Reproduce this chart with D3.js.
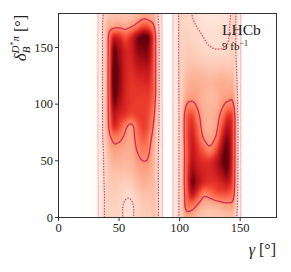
<!DOCTYPE html>
<html>
<head>
<meta charset="utf-8">
<script src="https://cdn.jsdelivr.net/npm/d3@7"></script>
<style>
  body { margin: 0; background: #fff; }
  svg { display: block; }
</style>
</head>
<body>
<div class="container"></div>
<script>
// grid nodes of the density map (degrees)
const gammaNodes = [0,5,10,15,20,25,30,35,40,45,50,55,60,65,70,75,80,85,90,95,100,105,110,115,120,125,130,135,140,145,150,155,160,165,170,175,180];
const deltaNodes = [0,10,20,30,40,50,60,70,80,90,100,110,120,130,140,150,160,170,180];

// relative density, one row per deltaNodes value
// columns: 0..20 | 25..90 (first band) | 95..155 (second band) | 160..180
const density = [
  [0,0,0,0,0, 0,0.006,0.045,0.10,0.10,0.10,0.07,0.07,0.10,0.12,0.13,0.14,0.03,0, 0.025,0.09,0.22,0.22,0.17,0.14,0.13,0.14,0.15,0.16,0.14,0.025,0, 0,0,0,0,0],
  [0,0,0,0,0, 0,0.006,0.045,0.10,0.11,0.10,0.072,0.072,0.10,0.13,0.14,0.14,0.03,0, 0.025,0.09,0.33,0.37,0.27,0.20,0.19,0.20,0.23,0.25,0.20,0.025,0, 0,0,0,0,0],
  [0,0,0,0,0, 0,0.006,0.045,0.10,0.12,0.11,0.09,0.09,0.13,0.16,0.16,0.14,0.03,0, 0.025,0.09,0.36,0.70,0.52,0.33,0.36,0.45,0.48,0.46,0.30,0.025,0, 0,0,0,0,0],
  [0,0,0,0,0, 0,0.006,0.045,0.11,0.14,0.13,0.12,0.13,0.17,0.20,0.19,0.14,0.03,0, 0.025,0.09,0.40,0.92,0.78,0.62,0.58,0.60,0.66,0.70,0.36,0.025,0, 0,0,0,0,0],
  [0,0,0,0,0, 0,0.006,0.045,0.12,0.16,0.16,0.16,0.17,0.21,0.24,0.22,0.14,0.03,0, 0.025,0.09,0.40,0.85,0.74,0.66,0.64,0.70,0.84,0.90,0.38,0.025,0, 0,0,0,0,0],
  [0,0,0,0,0, 0,0.007,0.045,0.13,0.20,0.20,0.19,0.20,0.26,0.30,0.27,0.14,0.03,0, 0.025,0.09,0.38,0.75,0.66,0.60,0.60,0.72,0.95,1.00,0.40,0.025,0, 0,0,0,0,0],
  [0,0,0,0,0, 0,0.007,0.045,0.15,0.25,0.25,0.22,0.22,0.31,0.37,0.31,0.15,0.03,0, 0.025,0.09,0.38,0.70,0.60,0.44,0.34,0.50,0.85,0.98,0.40,0.025,0, 0,0,0,0,0],
  [0,0,0,0,0, 0,0.007,0.05,0.18,0.34,0.34,0.27,0.24,0.36,0.46,0.36,0.17,0.03,0, 0.025,0.09,0.40,0.68,0.50,0.29,0.24,0.32,0.68,0.90,0.40,0.025,0, 0,0,0,0,0],
  [0,0,0,0,0, 0,0.007,0.05,0.21,0.58,0.52,0.34,0.26,0.42,0.55,0.44,0.20,0.03,0, 0.025,0.09,0.40,0.62,0.42,0.23,0.20,0.25,0.50,0.76,0.40,0.025,0, 0,0,0,0,0],
  [0,0,0,0,0, 0,0.007,0.05,0.22,0.70,0.65,0.58,0.50,0.55,0.56,0.48,0.24,0.028,0, 0.025,0.09,0.38,0.52,0.34,0.22,0.20,0.23,0.36,0.58,0.38,0.025,0, 0,0,0,0,0],
  [0,0,0,0,0, 0,0.007,0.05,0.22,0.85,0.78,0.65,0.58,0.56,0.56,0.52,0.28,0.027,0, 0.025,0.09,0.27,0.33,0.27,0.20,0.19,0.20,0.27,0.33,0.27,0.025,0, 0,0,0,0,0],
  [0,0,0,0,0, 0,0.007,0.05,0.22,0.95,0.88,0.66,0.58,0.58,0.58,0.56,0.32,0.026,0, 0.025,0.09,0.20,0.24,0.23,0.20,0.18,0.19,0.23,0.24,0.20,0.025,0, 0,0,0,0,0],
  [0,0,0,0,0, 0,0.007,0.05,0.22,1.00,0.92,0.68,0.60,0.62,0.64,0.62,0.32,0.026,0, 0.025,0.09,0.17,0.21,0.21,0.20,0.19,0.20,0.21,0.20,0.16,0.025,0, 0,0,0,0,0],
  [0,0,0,0,0, 0,0.007,0.05,0.22,0.98,0.92,0.68,0.62,0.70,0.72,0.68,0.32,0.026,0, 0.025,0.09,0.15,0.17,0.17,0.16,0.15,0.15,0.16,0.15,0.13,0.025,0, 0,0,0,0,0],
  [0,0,0,0,0, 0,0.007,0.05,0.22,0.93,0.88,0.68,0.66,0.80,0.86,0.78,0.32,0.026,0, 0.025,0.09,0.13,0.14,0.13,0.12,0.11,0.11,0.11,0.11,0.11,0.025,0, 0,0,0,0,0],
  [0,0,0,0,0, 0,0.007,0.05,0.22,0.86,0.82,0.64,0.68,0.90,0.95,0.85,0.32,0.026,0, 0.025,0.09,0.12,0.12,0.10,0.09,0.082,0.077,0.078,0.085,0.10,0.025,0, 0,0,0,0,0],
  [0,0,0,0,0, 0,0.007,0.05,0.22,0.60,0.60,0.48,0.60,0.85,1.00,0.88,0.32,0.026,0, 0.025,0.09,0.11,0.10,0.09,0.078,0.07,0.068,0.07,0.075,0.10,0.025,0, 0,0,0,0,0],
  [0,0,0,0,0, 0,0.006,0.05,0.18,0.22,0.24,0.22,0.26,0.34,0.46,0.40,0.22,0.025,0, 0.025,0.09,0.10,0.09,0.075,0.065,0.06,0.06,0.062,0.07,0.10,0.025,0, 0,0,0,0,0],
  [0,0,0,0,0, 0,0.006,0.05,0.12,0.15,0.15,0.14,0.15,0.18,0.22,0.20,0.15,0.022,0, 0.025,0.09,0.10,0.08,0.06,0.05,0.045,0.045,0.05,0.06,0.10,0.025,0, 0,0,0,0,0]
];

// 3, 2 and 1 sigma levels
const contourLevels = [0.02, 0.08, 0.3];
const contourStyles = [
  {stroke: '#f8aabd', width: 1, dash: null},
  {stroke: '#e0426f', width: 1.2, dash: '1.5,1.3'},
  {stroke: '#d8264f', width: 1.3, dash: null}
];
const xTicks = [0, 50, 100, 150];
const yTicks = [0, 50, 100, 150];

const W = 291, H = 272;
const serif = '"Liberation Serif", "DejaVu Serif", serif';
const x = d3.scaleLinear().domain([0, 180]).range([58.5, 276.5]);
const y = d3.scaleLinear().domain([0, 180]).range([217.5, 13.5]);
const colour = v => d3.interpolateReds(Math.pow(Math.min(1, v), 0.8));

// smooth the node grid (bicubic in log space) for drawing
const gStep = gammaNodes[1] - gammaNodes[0];
const dStep = deltaNodes[1] - deltaNodes[0];
const logGrid = density.map(row => row.map(v => Math.log(Math.max(v, 1e-3))));
const nx = gammaNodes.length, ny = deltaNodes.length;

function cr(p0, p1, p2, p3, t) {
  return p1 + 0.5 * t * (p2 - p0 + t * (2*p0 - 5*p1 + 4*p2 - p3 + t * (3*(p1 - p2) + p3 - p0)));
}
function ci(i, n) { return Math.max(0, Math.min(n - 1, i)); }

function sample(g, d) {
  const fx = (g - gammaNodes[0]) / gStep;
  const fy = (d - deltaNodes[0]) / dStep;
  const ix = Math.floor(fx), iy = Math.floor(fy);
  const tx = fx - ix, ty = fy - iy;
  const col = [];
  for (let j = -1; j <= 2; j++) {
    const row = logGrid[ci(iy + j, ny)];
    col.push(cr(row[ci(ix - 1, nx)], row[ci(ix, nx)], row[ci(ix + 1, nx)], row[ci(ix + 2, nx)], tx));
  }
  return Math.min(1.05, Math.exp(cr(col[0], col[1], col[2], col[3], ty)));
}

const svg = d3.select('.container')
  .append('svg')
  .attr('width', W)
  .attr('height', H)
  .attr('font-family', serif);

// heat map, drawn pixel by pixel through the scales
const x0 = Math.floor(x.range()[0]), x1 = Math.ceil(x.range()[1]);
const y0 = Math.floor(y.range()[1]), y1 = Math.ceil(y.range()[0]);
const cw = x1 - x0, chh = y1 - y0;
const canvas = document.createElement('canvas');
canvas.width = cw;
canvas.height = chh;
const ctx = canvas.getContext('2d');
const img = ctx.createImageData(cw, chh);
for (let j = 0; j < chh; j++) {
  for (let i = 0; i < cw; i++) {
    const v = sample(x.invert(x0 + i + 0.5), y.invert(y0 + j + 0.5));
    const c = d3.rgb(colour(v));
    const a = Math.max(0, Math.min(1, v / 0.02));
    const k = (j * cw + i) * 4;
    img.data[k] = Math.round(255 + (c.r - 255) * a);
    img.data[k + 1] = Math.round(255 + (c.g - 255) * a);
    img.data[k + 2] = Math.round(255 + (c.b - 255) * a);
    img.data[k + 3] = 255;
  }
}
ctx.putImageData(img, 0, 0);

svg.append('clipPath').attr('id', 'plotClip')
  .append('rect')
  .attr('x', x(0)).attr('y', y(180))
  .attr('width', x(180) - x(0)).attr('height', y(0) - y(180));

svg.append('image')
  .attr('x', x0).attr('y', y0)
  .attr('width', cw).attr('height', chh)
  .attr('href', canvas.toDataURL())
  .attr('clip-path', 'url(#plotClip)');

// contours on a finer grid that reaches a bit past the frame
const fs = 1, fg0 = -3, fd0 = -3, fn = 187;
const fine = new Array(fn * fn);
for (let j = 0; j < fn; j++) {
  for (let i = 0; i < fn; i++) {
    fine[j * fn + i] = sample(fg0 + i * fs, fd0 + j * fs);
  }
}
const contours = d3.contours().size([fn, fn]).thresholds(contourLevels)(fine);
const proj = d3.geoTransform({
  point(px, py) {
    this.stream.point(x(fg0 + (px - 0.5) * fs), y(fd0 + (py - 0.5) * fs));
  }
});
const path = d3.geoPath(proj);

svg.append('g')
  .attr('clip-path', 'url(#plotClip)')
  .selectAll('path')
  .data(contours)
  .join('path')
  .attr('d', path)
  .attr('fill', 'none')
  .attr('stroke', (d, i) => contourStyles[i].stroke)
  .attr('stroke-width', (d, i) => contourStyles[i].width)
  .attr('stroke-dasharray', (d, i) => contourStyles[i].dash);

// frame
svg.append('rect')
  .attr('x', x(0)).attr('y', y(180))
  .attr('width', x(180) - x(0)).attr('height', y(0) - y(180))
  .attr('fill', 'none')
  .attr('stroke', '#333')
  .attr('stroke-width', 1);

// ticks
svg.append('g').selectAll('line')
  .data(xTicks)
  .join('line')
  .attr('x1', d => x(d)).attr('x2', d => x(d))
  .attr('y1', y(0)).attr('y2', y(0) + 3.5)
  .attr('stroke', '#333');
svg.append('g').selectAll('text')
  .data(xTicks)
  .join('text')
  .attr('x', d => x(d))
  .attr('y', 231.5)
  .attr('text-anchor', 'middle')
  .attr('font-family', serif)
  .attr('font-size', 12.5)
  .attr('fill', '#222')
  .text(d => d);

svg.append('g').selectAll('line')
  .data(yTicks)
  .join('line')
  .attr('x1', x(0) - 3.5).attr('x2', x(0))
  .attr('y1', d => y(d)).attr('y2', d => y(d))
  .attr('stroke', '#333');
svg.append('g').selectAll('text')
  .data(yTicks)
  .join('text')
  .attr('x', 53)
  .attr('y', d => y(d) + 4.2)
  .attr('text-anchor', 'end')
  .attr('font-family', serif)
  .attr('font-size', 12.5)
  .attr('fill', '#222')
  .text(d => d);

// axis labels
const xLab = svg.append('text')
  .attr('x', 276).attr('y', 255)
  .attr('text-anchor', 'end')
  .attr('font-family', serif)
  .attr('font-size', 16)
  .attr('fill', '#222');
xLab.append('tspan').attr('font-style', 'italic').text('γ');
xLab.append('tspan').text(' [°]');

const yLab = svg.append('text')
  .attr('transform', 'translate(26,15) rotate(-90)')
  .attr('text-anchor', 'end')
  .attr('font-family', serif)
  .attr('font-size', 16)
  .attr('fill', '#222');
yLab.append('tspan').attr('font-style', 'italic').attr('font-size', 17).text('δ');
yLab.append('tspan').attr('font-style', 'italic').attr('font-size', 11).attr('dy', 4).text('B');
yLab.append('tspan').attr('font-style', 'italic').attr('font-size', 11).attr('dx', -7).attr('dy', -11).text('D');
yLab.append('tspan').attr('font-size', 8).attr('dy', -3).text('*');
yLab.append('tspan').attr('font-style', 'italic').attr('font-size', 11).attr('dy', 3).text('π');
yLab.append('tspan').attr('dy', 7).text(' [°]');

// experiment tag
svg.append('text')
  .attr('x', 222).attr('y', 35)
  .attr('font-family', serif)
  .attr('font-size', 15.5)
  .attr('fill', '#222')
  .text('LHCb');
const lumi = svg.append('text')
  .attr('x', 222).attr('y', 50)
  .attr('font-family', serif)
  .attr('font-size', 11)
  .attr('fill', '#222');
lumi.append('tspan').text('9 fb');
lumi.append('tspan').attr('font-size', 8).attr('dy', -4.5).text('−1');
</script>
</body>
</html>
